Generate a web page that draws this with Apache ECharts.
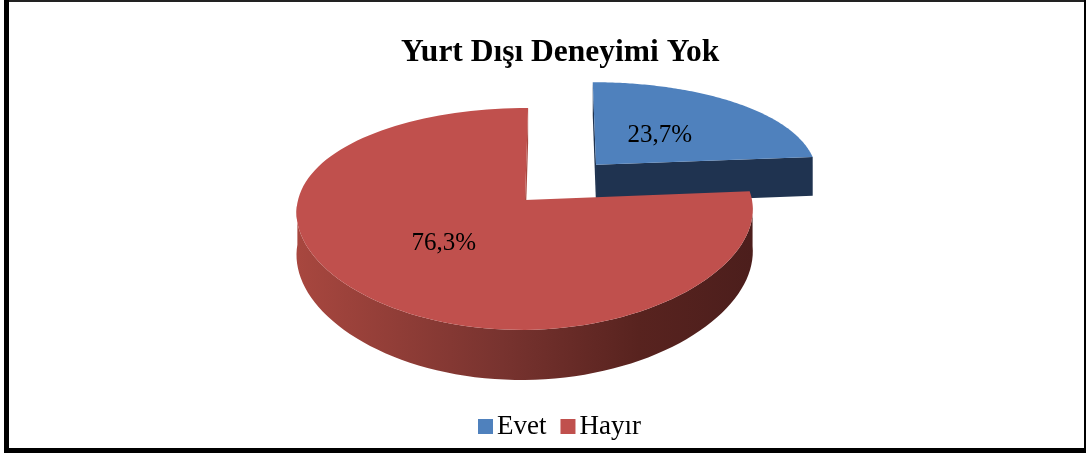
<!DOCTYPE html>
<html>
<head>
<meta charset="utf-8">
<script src="https://cdn.jsdelivr.net/npm/echarts@6/dist/echarts.min.js"></script>
<style>
  html, body { margin: 0; padding: 0; background: #fff; }
  #chart { width: 1087px; height: 454px; }
</style>
</head>
<body>
<div id="chart"></div>
<script>
// ---- data ----
const chartTitle = 'Yurt Dışı Deneyimi Yok';
const categories = ['Evet', 'Hayır'];
const values = [23.7, 76.3];
const valueLabels = ['23,7%', '76,3%'];

// ---- styles ----
const topColors = ['#4f81bd', '#c0504d'];
const sideStops = [
  [[0, '#1f3350'], [1, '#1f3350']],
  [[0, '#a8473f'], [0.45, '#78332f'], [0.75, '#58231f'], [1, '#4c1e1c']]
];
const explode = [0.47, 0];
const labelFrac = [0.45, 0.5];

// ---- projection (layout) ----
const CX = 525, CY = 200, A = 227, B = 107.7, K = 0.171, KX = 0.1, D = 41.5, UC = 0.15;
function proj(u, v, h) {
  const s = 1 / (1 + K * v);
  const sx = 1 / (1 + KX * v);
  return [CX + A * (UC + (u - UC) * sx), CY - B * v * s + D * h * s];
}
const RAD = Math.PI / 180;
const total = values.reduce((a, b) => a + b, 0);

function sliceAngles(i) {
  let cum = 0;
  for (let k = 0; k < i; k++) cum += values[k];
  const start = 90 - 360 * cum / total;
  const end = start - 360 * values[i] / total;
  return [start, end];
}

function makeRenderItem(i) {
  return function (params, api) {
    const val = api.value(0);
    const [start, end] = sliceAngles(i);
    const mid = (start + end) / 2;
    const e = explode[i];
    const ou = e * Math.cos(mid * RAD), ov = e * Math.sin(mid * RAD);
    const N = 120;
    const angs = [];
    for (let k = 0; k <= N; k++) angs.push(start + (end - start) * k / N);
    const rim = (t, h) => proj(ou + Math.cos(t * RAD), ov + Math.sin(t * RAD), h);
    const children = [];
    const grad = new echarts.graphic.LinearGradient(0, 0, 1, 0,
      sideStops[i].map(s => ({ offset: s[0], color: s[1] })));
    // radial faces
    const camU = UC, camV = -1 / K;
    const faces = [
      { t: start, n: start + 90 },
      { t: end, n: end - 90 }
    ];
    faces.forEach(f => {
      const mu = ou + 0.5 * Math.cos(f.t * RAD), mv = ov + 0.5 * Math.sin(f.t * RAD);
      const dot = Math.cos(f.n * RAD) * (camU - mu) + Math.sin(f.n * RAD) * (camV - mv);
      if (dot > 0.01) {
        children.push({
          type: 'polygon',
          shape: { points: [proj(ou, ov, 0), rim(f.t, 0), rim(f.t, 1), proj(ou, ov, 1)] },
          style: { fill: sideStops[i][0][1] }
        });
      }
    });
    // outer wall: front-facing runs
    let run = [];
    const runs = [];
    for (let k = 0; k <= N; k++) {
      const vis = Math.sin(angs[k] * RAD) <= 0.0001;
      if (vis) run.push(angs[k]);
      else if (run.length) { runs.push(run); run = []; }
    }
    if (run.length) runs.push(run);
    runs.forEach(r => {
      if (r.length < 2) return;
      const pts = r.map(t => rim(t, 0)).concat(r.slice().reverse().map(t => rim(t, 1)));
      children.push({ type: 'polygon', shape: { points: pts }, style: { fill: grad } });
    });
    // top face
    const topPts = [proj(ou, ov, 0)].concat(angs.map(t => rim(t, 0)));
    children.push({ type: 'polygon', shape: { points: topPts }, style: { fill: topColors[i] } });
    // label
    const f = labelFrac[i];
    const lp = proj(ou + f * Math.cos(mid * RAD), ov + f * Math.sin(mid * RAD), 0);
    children.push({
      type: 'text',
      style: {
        text: valueLabels[i], x: lp[0], y: lp[1] + 1,
        fill: '#000', font: '25px "Liberation Serif"',
        align: 'center', verticalAlign: 'middle'
      }
    });
    return { type: 'group', children: children };
  };
}

const chart = echarts.init(document.getElementById('chart'), null, { renderer: 'canvas' });
chart.setOption({
  animation: false,
  backgroundColor: '#fff',
  title: {
    text: chartTitle,
    left: 401, top: 37, padding: 0,
    textStyle: { fontFamily: 'Liberation Serif', fontSize: 31.5, fontWeight: 'bold', color: '#000' }
  },
  legend: {
    data: categories,
    left: 478, top: 413, padding: 0,
    icon: 'rect', itemWidth: 15, itemHeight: 15, itemGap: 14,
    textStyle: { fontFamily: 'Liberation Serif', fontSize: 27, color: '#000', padding: [0, 0, 0, -1] }
  },
  graphic: [
    { type: 'rect', shape: { x: 4, y: 0, width: 1082, height: 2 }, style: { fill: '#222' } },
    { type: 'rect', shape: { x: 4, y: 0, width: 5, height: 453 }, style: { fill: '#000' } },
    { type: 'rect', shape: { x: 1084, y: 0, width: 2, height: 453 }, style: { fill: '#000' } },
    { type: 'rect', shape: { x: 4, y: 448, width: 1082, height: 5 }, style: { fill: '#000' } }
  ],
  series: categories.map((name, i) => ({
    type: 'custom',
    name: name,
    coordinateSystem: 'none',
    itemStyle: { color: topColors[i] },
    data: [[values[i]]],
    renderItem: makeRenderItem(i)
  }))
});
</script>
</body>
</html>
